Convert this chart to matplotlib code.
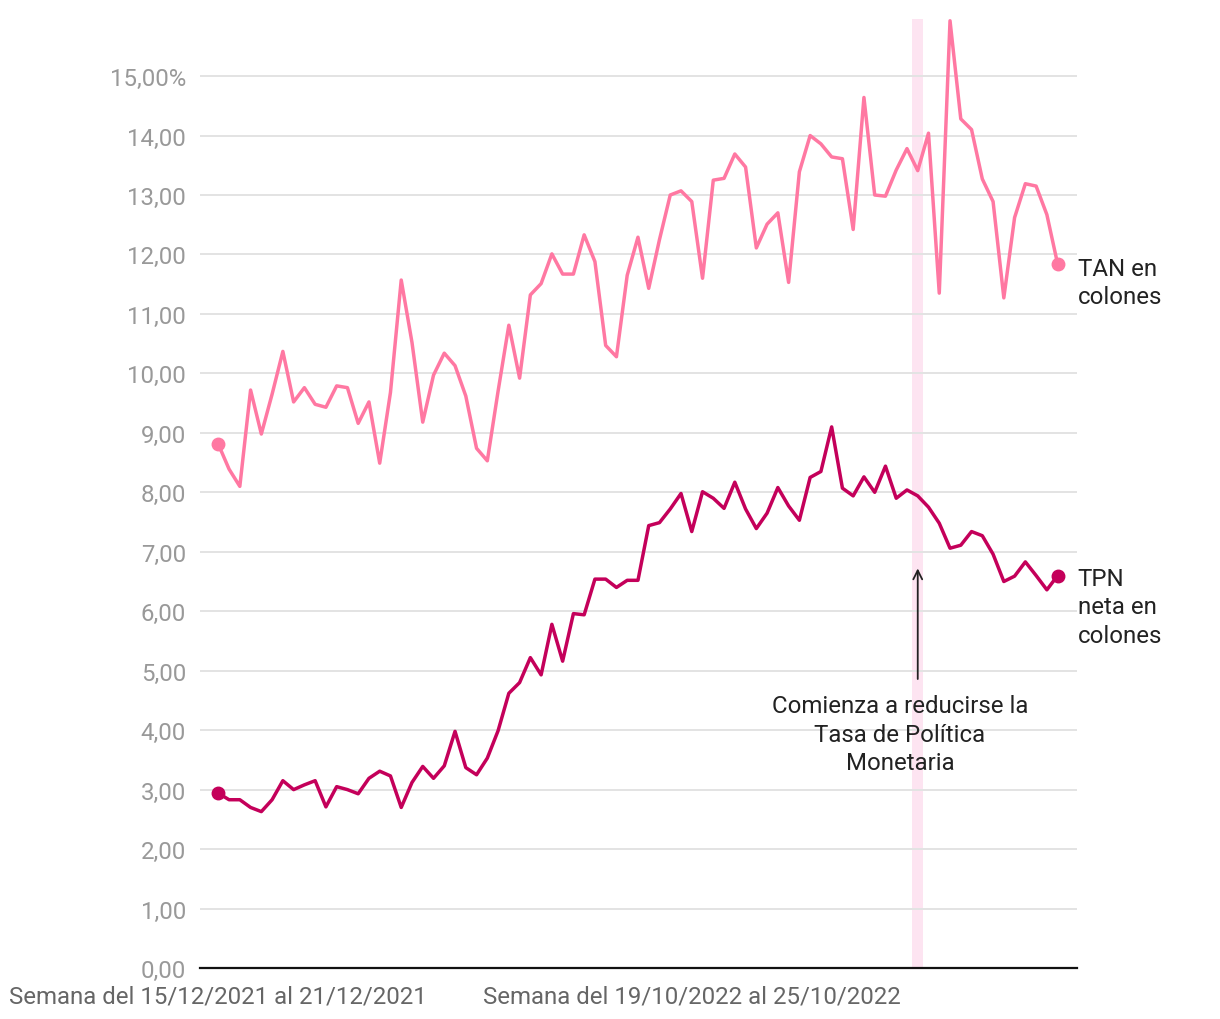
import matplotlib
matplotlib.use("Agg")
import matplotlib.pyplot as plt
import numpy as np

plt.rcParams['font.family'] = ['Roboto', 'DejaVu Sans']

# Tasas semanales (%), 79 semanas desde 15/12/2021
tan_colones = [
    8.81, 8.39, 8.10, 9.72, 8.98, 9.65, 10.37, 9.52, 9.76, 9.48,
    9.43, 9.79, 9.76, 9.16, 9.52, 8.49, 9.68, 11.57, 10.52, 9.18,
    9.97, 10.34, 10.13, 9.62, 8.74, 8.53, 9.70, 10.81, 9.92, 11.32,
    11.51, 12.01, 11.67, 11.67, 12.33, 11.88, 10.47, 10.28, 11.65, 12.29,
    11.43, 12.25, 13.00, 13.07, 12.89, 11.60, 13.25, 13.28, 13.69, 13.47,
    12.11, 12.51, 12.70, 11.53, 13.39, 14.00, 13.86, 13.64, 13.61, 12.42,
    14.64, 13.00, 12.98, 13.42, 13.78, 13.41, 14.04, 11.35, 15.93, 14.28,
    14.10, 13.27, 12.89, 11.27, 12.62, 13.19, 13.15, 12.67, 11.84,
]
tpn_colones = [
    2.94, 2.83, 2.83, 2.70, 2.63, 2.83, 3.15, 3.00, 3.08, 3.15,
    2.71, 3.05, 3.00, 2.93, 3.19, 3.31, 3.23, 2.70, 3.12, 3.39,
    3.19, 3.40, 3.98, 3.37, 3.25, 3.53, 3.99, 4.62, 4.80, 5.22,
    4.93, 5.78, 5.16, 5.96, 5.94, 6.54, 6.54, 6.40, 6.52, 6.52,
    7.44, 7.49, 7.72, 7.98, 7.34, 8.01, 7.90, 7.73, 8.17, 7.72,
    7.39, 7.65, 8.08, 7.77, 7.53, 8.25, 8.35, 9.10, 8.07, 7.94,
    8.26, 8.00, 8.44, 7.90, 8.04, 7.94, 7.75, 7.48, 7.06, 7.11,
    7.34, 7.27, 6.96, 6.50, 6.59, 6.83, 6.60, 6.36, 6.60,
]
semanas = np.arange(len(tan_colones))
etiquetas_x = {0: "Semana del 15/12/2021 al 21/12/2021",
               44: "Semana del 19/10/2022 al 25/10/2022"}
semana_tpm = 65  # empieza a bajar la Tasa de Política Monetaria

color_tan = "#ff78a2"
color_tpn = "#c4005a"
fs = 17.3

fig = plt.figure(figsize=(12.2, 10.2), dpi=100)
ax = fig.add_axes([200 / 1220, 51 / 1020, 877 / 1220, 949 / 1020])

ax.axvspan(semana_tpm - 0.5, semana_tpm + 0.5, color="#fde4f1", zorder=0, lw=0)

ax.plot(semanas, tan_colones, color=color_tan, lw=2.5, zorder=3, clip_on=False)
ax.plot(semanas, tpn_colones, color=color_tpn, lw=2.5, zorder=3, clip_on=False)
for serie, col in [(tan_colones, color_tan), (tpn_colones, color_tpn)]:
    ax.plot([semanas[0], semanas[-1]], [serie[0], serie[-1]], "o", color=col,
            ms=9, zorder=4, clip_on=False)

ax.set_xlim(-1.7, 79.8)
ax.set_ylim(0, 15.96)

yt = np.arange(0, 16, 1)
ax.set_yticks(yt)
ax.set_yticklabels([f"{v:.2f}".replace(".", ",") + ("%" if v == 15 else "") for v in yt])
ax.set_xticks(list(etiquetas_x.keys()))
ax.set_xticklabels(list(etiquetas_x.values()))

ax.tick_params(axis="y", length=0, pad=10, labelsize=fs, labelcolor="#999999")
ax.tick_params(axis="x", length=0, pad=12, labelsize=fs, labelcolor="#666666")
ax.grid(axis="y", color="#e3e3e3", lw=1.4, zorder=1)
ax.set_axisbelow(True)
for s in ["top", "right", "left"]:
    ax.spines[s].set_visible(False)
ax.spines["bottom"].set_color("#111111")
ax.spines["bottom"].set_linewidth(1.6)
ax.spines["bottom"].set_zorder(5)

# etiquetas de las series
ax.annotate("TAN en\ncolones", xy=(semanas[-1], tan_colones[-1]), xytext=(14.5, 5),
            textcoords="offset points", va="top", ha="left", fontsize=fs,
            color="#222222", linespacing=1.29, annotation_clip=False)
ax.annotate("TPN\nneta en\ncolones", xy=(semanas[-1], tpn_colones[-1]), xytext=(14.5, 6),
            textcoords="offset points", va="top", ha="left", fontsize=fs,
            color="#222222", linespacing=1.29, annotation_clip=False)

# anotación TPM
ax.annotate("", xy=(semana_tpm, 6.72), xytext=(semana_tpm, 4.86),
            arrowprops=dict(arrowstyle="->", color="#222222", lw=1.3,
                            mutation_scale=16, shrinkA=0, shrinkB=0), zorder=6)
ax.text(63.35, 4.61, "Comienza a reducirse la\nTasa de Política\nMonetaria",
        ha="center", va="top", multialignment="center", fontsize=fs,
        color="#222222", linespacing=1.32, zorder=6)

fig.savefig("out.png", dpi=100)
